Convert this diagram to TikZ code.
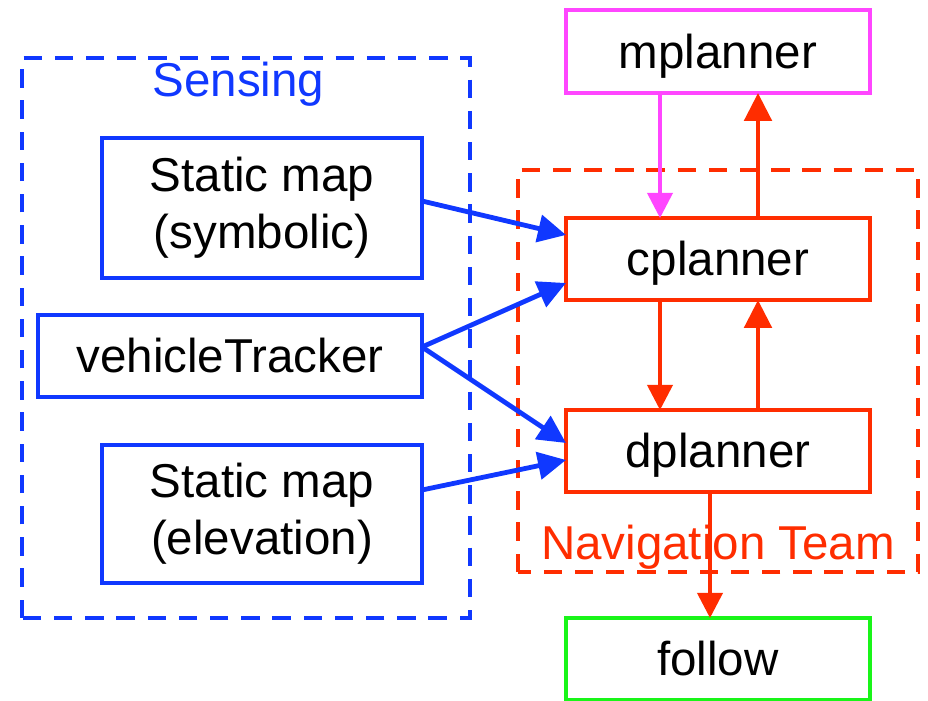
\documentclass[tikz,border=0pt]{standalone}
\usepackage{fontspec}
\setmainfont{Liberation Sans}
\usetikzlibrary{arrows.meta}
\usetikzlibrary{calc}
\usetikzlibrary{positioning}

\definecolor{senseblue}{RGB}{16,56,255}
\definecolor{navred}{RGB}{255,45,0}
\definecolor{mplmag}{RGB}{255,70,255}
\definecolor{folgreen}{RGB}{25,245,25}

\tikzset{
    every node/.style={font=\fontsize{33.8pt}{40.5pt}\selectfont, outer sep=0pt},
    modbox/.style={draw, line width=0.115cm, minimum height=2.05cm, align=center},
    onelinebox/.style={modbox, text height=1.05cm, text depth=0.2cm},
    groupbox/.style={dashed, line width=0.11cm, dash pattern=on 0.46cm off 0.32cm},
    thickarrow/.style={line width=0.12cm, -{Triangle[length=0.7cm,width=0.68cm]}},
    thinarrow/.style={line width=0.095cm, -{Triangle[length=0.63cm,width=0.63cm]}}
}

\begin{document}
\begin{tikzpicture}
    \useasboundingbox (0,0) rectangle (23.2,17.525);

    \draw[groupbox, senseblue] (0.55,2.075) rectangle (11.75,16.075);
    \node[senseblue, anchor=base] (senselbl) at (5.96,15.1) {Sensing};

    \draw[groupbox, navred] (12.95,3.225) rectangle (22.95,13.275);
    \node[navred, anchor=base] (navlbl) at (17.95,3.525) {Navigation Team};

    \node[modbox, senseblue, text=black, minimum width=8cm, minimum height=3.5cm] (sym) at (6.55,12.325) {Static map\\(symbolic)};
    \node[onelinebox, senseblue, text=black, minimum width=9.6cm] (vt) at (5.75,8.625) {vehicleTracker};
    \node[modbox, senseblue, text=black, minimum width=8cm, minimum height=3.45cm] (elev) at (6.55,4.675) {Static map\\(elevation)};

    \node[onelinebox, mplmag, text=black, minimum width=7.6cm, minimum height=2.075cm] (mp) at (17.95,16.2375) {mplanner};
    \node[onelinebox, navred, text=black, minimum width=7.6cm] (cp) at (17.95,11.05) {cplanner};
    \node[onelinebox, navred, text=black, minimum width=7.6cm] (dp) at (17.95,6.25) {dplanner};
    \node[onelinebox, folgreen, text=black, minimum width=7.6cm] (fol) at (17.95,1.05) {follow};

    \draw[thickarrow, senseblue] ([yshift=0.175cm]sym.east) -- ([yshift=0.6cm]cp.west);
    \draw[thickarrow, senseblue] ([yshift=0.225cm]vt.east) -- ([yshift=-0.6cm]cp.west);
    \draw[thickarrow, senseblue] ([yshift=0.225cm]vt.east) -- ([yshift=0.2cm]dp.west);
    \draw[thickarrow, senseblue] ([yshift=0.6cm]elev.east) -- ([yshift=-0.225cm]dp.west);

    \draw[thinarrow, mplmag] ([xshift=-1.45cm]mp.south) -- ([xshift=-1.45cm]cp.north);
    \draw[thickarrow, navred] ([xshift=1cm]cp.north) -- ([xshift=1cm]mp.south);
    \draw[thinarrow, navred] ([xshift=-1.45cm]cp.south) -- ([xshift=-1.45cm]dp.north);
    \draw[thickarrow, navred] ([xshift=1cm]dp.north) -- ([xshift=1cm]cp.south);
    \draw[thinarrow, navred] ([xshift=-0.2cm]dp.south) -- ([xshift=-0.2cm]fol.north);
\end{tikzpicture}
\end{document}
